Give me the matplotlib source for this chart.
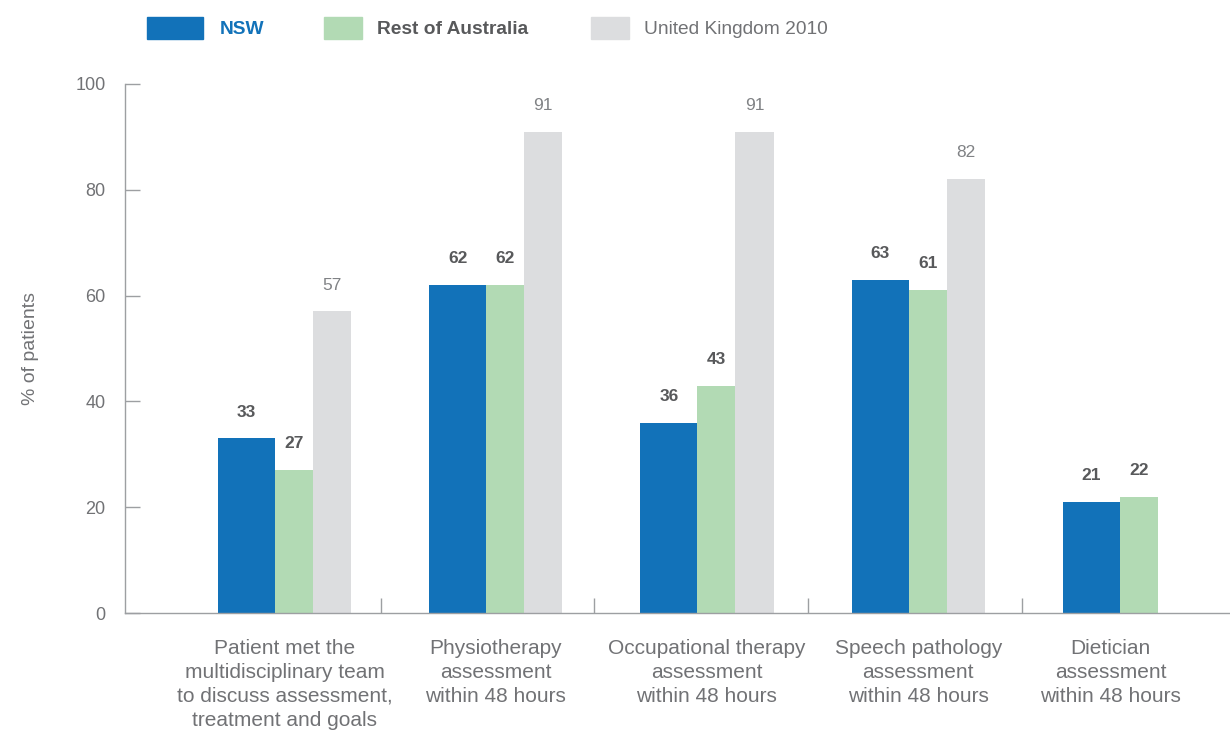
import numpy as np
import matplotlib
matplotlib.use("Agg")
import matplotlib.pyplot as plt
from matplotlib.patches import Rectangle

plt.rcParams["font.family"] = ["Liberation Sans", "DejaVu Sans"]

categories = [
    "Patient met the\nmultidisciplinary team\nto discuss assessment,\ntreatment and goals",
    "Physiotherapy\nassessment\nwithin 48 hours",
    "Occupational therapy\nassessment\nwithin 48 hours",
    "Speech pathology\nassessment\nwithin 48 hours",
    "Dietician\nassessment\nwithin 48 hours",
]
nsw = [33, 62, 36, 63, 21]
rest_aus = [27, 62, 43, 61, 22]
uk_2010 = [57, 91, 91, 82, None]
series_names = ["NSW", "Rest of Australia", "United Kingdom 2010"]
y_ticks = [0, 20, 40, 60, 80, 100]

BLUE = "#1272b9"
GREEN = "#b2dab4"
GREY = "#dcdddf"
TEXT = "#717275"
BOLD_TEXT = "#58595b"
AXIS = "#9d9fa2"

fig = plt.figure(figsize=(12.3, 7.34), dpi=100)
ax = fig.add_axes([125 / 1230, 121 / 734, 1105 / 1230, 529 / 734])

x = np.arange(len(categories))
uk_vals = np.array([np.nan if v is None else v for v in uk_2010], dtype=float)

ax.bar(x - 0.18, nsw, width=0.27, color=BLUE)
ax.bar(x + 0.045, rest_aus, width=0.18, color=GREEN)
ax.bar(x + 0.225, uk_vals, width=0.18, color=GREY)

# value labels
for xi, v in zip(x, nsw):
    ax.annotate(str(v), (xi - 0.18, v), xytext=(0, 19), textcoords="offset points",
                ha="center", va="center", fontsize=12.5, fontweight="bold", color=BOLD_TEXT)
for xi, v in zip(x, rest_aus):
    ax.annotate(str(v), (xi + 0.045, v), xytext=(0, 19), textcoords="offset points",
                ha="center", va="center", fontsize=12.5, fontweight="bold", color=BOLD_TEXT)
for xi, v in zip(x, uk_2010):
    if v is None:
        continue
    ax.annotate(str(v), (xi + 0.225, v), xytext=(0, 19), textcoords="offset points",
                ha="center", va="center", fontsize=12.5, color="#808285")

ax.set_xlim(-0.755, 4.476)
ax.set_ylim(0, 100)

# category labels centred on the drawn bars
label_pos = [xi if v is not None else xi - 0.09 for xi, v in zip(x, uk_2010)]
ax.set_xticks(label_pos)
ax.set_xticklabels(categories, fontsize=15, color=TEXT, linespacing=1.32)
ax.tick_params(axis="x", which="major", length=0, pad=19)
ax.set_xticks(0.455 + np.arange(4) * 1.012, minor=True)
ax.tick_params(axis="x", which="minor", direction="in", length=11, color=AXIS, width=1)

ax.set_yticks(y_ticks)
ax.tick_params(axis="y", direction="in", length=11, color=AXIS, width=1,
               labelsize=13, labelcolor=TEXT, pad=14)
ax.set_ylabel("% of patients", fontsize=14, color=TEXT, labelpad=26)

for side in ["top", "right"]:
    ax.spines[side].set_visible(False)
for side in ["left", "bottom"]:
    ax.spines[side].set_color(AXIS)
    ax.spines[side].set_linewidth(1)

# legend drawn along the top
W, H = 1230, 734
legend_items = [
    (147, 56, BLUE, series_names[0], BLUE, "bold", 220),
    (324, 38, GREEN, series_names[1], BOLD_TEXT, "bold", 377),
    (591, 38, GREY, series_names[2], TEXT, "normal", 644),
]
for px, pw, col, name, tcol, weight, tx in legend_items:
    fig.patches.append(Rectangle((px / W, 1 - 39 / H), pw / W, 22 / H,
                                 transform=fig.transFigure, color=col))
    fig.text(tx / W, 1 - 29 / H, name, ha="left", va="center", fontsize=13.8,
             color=tcol, fontweight=weight)

fig.savefig("out.png", dpi=100)
